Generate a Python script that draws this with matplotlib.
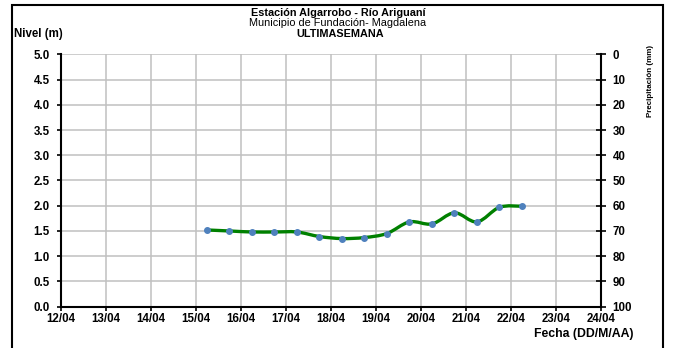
from datetime import datetime

import matplotlib
matplotlib.use("Agg")
import matplotlib.pyplot as plt
import matplotlib.dates as mdates
import matplotlib.patches as patches
from matplotlib.path import Path
import numpy as np

plt.rcParams['font.family'] = ['Liberation Sans', 'DejaVu Sans']

# lecturas de nivel (06:00 y 18:00)
fechas = ["15/04 06:00", "15/04 18:00", "16/04 06:00", "16/04 18:00",
          "17/04 06:00", "17/04 18:00", "18/04 06:00", "18/04 18:00",
          "19/04 06:00", "19/04 18:00", "20/04 06:00", "20/04 18:00",
          "21/04 06:00", "21/04 18:00", "22/04 06:00"]
nivel = [1.52, 1.50, 1.48, 1.48, 1.48, 1.39, 1.35, 1.37,
         1.45, 1.68, 1.64, 1.86, 1.68, 1.97, 1.99]

dias = ["12/04", "13/04", "14/04", "15/04", "16/04", "17/04", "18/04",
        "19/04", "20/04", "21/04", "22/04", "23/04", "24/04"]
nivel_ticks = [0.0, 0.5, 1.0, 1.5, 2.0, 2.5, 3.0, 3.5, 4.0, 4.5, 5.0]
precip_ticks = [0, 10, 20, 30, 40, 50, 60, 70, 80, 90, 100]

anio = "2023"
x = mdates.date2num([datetime.strptime(f"{f[:5]}/{anio} {f[6:]}", "%d/%m/%Y %H:%M") for f in fechas])
x_dias = mdates.date2num([datetime.strptime(f"{d}/{anio}", "%d/%m/%Y") for d in dias])
y = np.array(nivel)

W, H = 674, 348
fs = 8.3
fig = plt.figure(figsize=(W / 100, H / 100), dpi=100)
ax = fig.add_axes([60.7 / W, 1 - 306.7 / H, 540 / W, 252.4 / H])

ax.set_xlim(x_dias[0], x_dias[-1])
ax.set_ylim(0, 5)
ax.set_xticks(x_dias)
ax.set_xticklabels(dias)
ax.set_yticks(nivel_ticks)
ax.set_yticklabels([f"{v:.1f}" for v in nivel_ticks])

grid_c = '#c0c0c0'
ax.grid(True, color=grid_c, linewidth=1.1)
ax.set_axisbelow(True)
for s in ['top', 'right']:
    ax.spines[s].set_visible(False)
for s in ['left', 'bottom']:
    ax.spines[s].set_linewidth(1.5)
ax.tick_params(axis='both', direction='out', length=3, width=1.2, labelsize=fs)
ax.tick_params(axis='y', pad=5)
ax.tick_params(axis='x', pad=1.5)
for lab in ax.get_xticklabels() + ax.get_yticklabels():
    lab.set_fontweight('bold')

# linea suavizada (Catmull-Rom -> Bezier)
pts = np.column_stack([x, y])
ext = np.vstack([pts[0], pts, pts[-1]])
verts = [pts[0]]
codes = [Path.MOVETO]
for i in range(len(pts) - 1):
    p0, p1, p2, p3 = ext[i], ext[i + 1], ext[i + 2], ext[i + 3]
    verts += [p1 + (p2 - p0) / 6, p2 - (p3 - p1) / 6, p2]
    codes += [Path.CURVE4] * 3
ax.add_patch(patches.PathPatch(Path(verts, codes), facecolor='none',
                               edgecolor='#008000', linewidth=2.4, zorder=3))
ax.plot(x, y, linestyle='none', marker='o', markersize=4.0,
        markerfacecolor='#4f81bd', markeredgecolor='#4f81bd', zorder=4)

# eje de precipitacion
ax2 = ax.twinx()
ax2.set_ylim(100, 0)
ax2.set_yticks(precip_ticks)
ax2.set_yticklabels([str(v) for v in precip_ticks])
for s in ['top', 'left', 'bottom']:
    ax2.spines[s].set_visible(False)
ax2.spines['right'].set_linewidth(1.5)
ax2.tick_params(axis='y', direction='inout', length=7, width=1.2, labelsize=fs, pad=5)
for lab in ax2.get_yticklabels():
    lab.set_fontweight('bold')

fig.text(650 / W, 1 - 81 / H, "Precipitación (mm)", rotation=90, ha='center', va='center',
         fontsize=5.8, fontweight='bold', family=['Liberation Sans Narrow', 'Liberation Sans'])

# titulos
fig.text(338 / W, 1 - 13 / H, "Estación Algarrobo - Río Ariguaní", ha='center', va='center',
         fontsize=7.8, fontweight='bold')
fig.text(338 / W, 1 - 23.5 / H, "Municipio de Fundación- Magdalena", ha='center', va='center',
         fontsize=7.8)
fig.text(340 / W, 1 - 34 / H, "ULTIMASEMANA", ha='center', va='center',
         fontsize=7.8, fontweight='bold')
fig.text(14 / W, 1 - 34 / H, "Nivel (m)", ha='left', va='center', fontsize=fs, fontweight='bold')
fig.text(634 / W, 1 - 334 / H, "Fecha (DD/M/AA)", ha='right', va='center',
         fontsize=8.8, fontweight='bold')

# marco
fig.add_artist(patches.Rectangle((11.5 / W, -0.05), (663 - 11.5) / W, 1.05 - 5.5 / H,
                                 transform=fig.transFigure, fill=False,
                                 edgecolor='black', linewidth=1.5))

fig.savefig("out.png", dpi=100)
